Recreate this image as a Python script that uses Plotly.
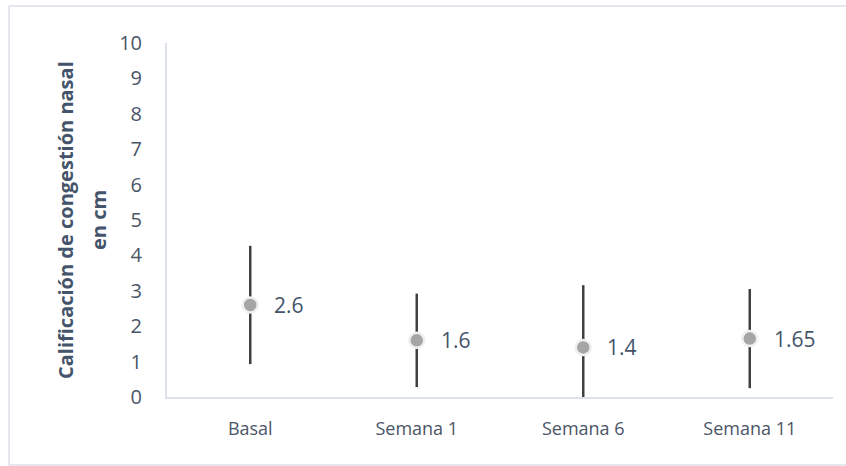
import plotly.graph_objects as go

# Nasal congestion score by visit: mean and symmetric error
categories = ["Basal", "Semana 1", "Semana 6", "Semana 11"]
means = [2.6, 1.6, 1.4, 1.65]
errors = [1.67, 1.32, 1.76, 1.4]
y_ticks = list(range(0, 11))
title_lines = ["Calificación de congestión nasal", "en cm"]

W, H = 846, 466
L, R, T, B = 167, 13, 43, 69
pw, ph = W - L - R, H - T - B

FONT = "Open Sans"
TEXT = "#4A5568"

fig = go.Figure()
fig.add_trace(go.Scatter(
    x=categories,
    y=means,
    mode="markers",
    marker=dict(size=15, color="#A5A5A5", line=dict(color="#F0F0F0", width=2.5)),
    error_y=dict(type="data", array=errors, visible=True,
                 color="#404040", thickness=2.5, width=0),
    showlegend=False,
    hoverinfo="skip",
))

# value labels to the right of each point
for c, v in zip(categories, means):
    fig.add_annotation(x=c, y=v, text=f"{v:g}", showarrow=False,
                       xanchor="left", yanchor="middle", xshift=22,
                       font=dict(family=FONT, size=21, color="#44546A"))


def px_x(p):
    return (p - L) / pw


def px_y(p):
    return (H - B - p) / ph


# rotated two-line y-axis title
for xc, line in zip([65, 98], title_lines):
    fig.add_annotation(xref="paper", yref="paper", x=px_x(xc), y=px_y(220),
                       text=f"<b>{line}</b>", showarrow=False, textangle=-90,
                       xanchor="center", yanchor="middle",
                       font=dict(family=FONT, size=20, color="#44546A"))

# outer chart frame (top, left and bottom edges; open to the right)
frame = dict(color="#DCDFE6", width=1.5)
x_left, x_right = px_x(9), px_x(W + 5)
y_top, y_bot = px_y(6), px_y(465)
for x0, y0, x1, y1 in [(x_left, y_top, x_right, y_top),
                       (x_left, y_bot, x_right, y_bot),
                       (x_left, y_bot, x_left, y_top)]:
    fig.add_shape(type="line", xref="paper", yref="paper",
                  x0=x0, y0=y0, x1=x1, y1=y1, line=frame, layer="below")

fig.update_layout(
    width=W, height=H,
    margin=dict(l=L, r=R, t=T, b=B),
    paper_bgcolor="white",
    plot_bgcolor="white",
    font=dict(family=FONT, size=16, color=TEXT),
    xaxis=dict(
        type="category",
        range=[-0.5, 3.5],
        showline=True, linecolor="#DDE2EA", linewidth=2,
        showgrid=False, zeroline=False, ticks="",
        tickfont=dict(family=FONT, size=18, color=TEXT),
        ticklabelstandoff=14,
    ),
    yaxis=dict(
        range=[0, 10],
        tickvals=y_ticks,
        showline=True, linecolor="#DDE2EA", linewidth=2,
        showgrid=False, zeroline=False, ticks="",
        tickfont=dict(family=FONT, size=20, color=TEXT),
        ticklabelstandoff=19,
    ),
)

fig.write_html("out.html")
